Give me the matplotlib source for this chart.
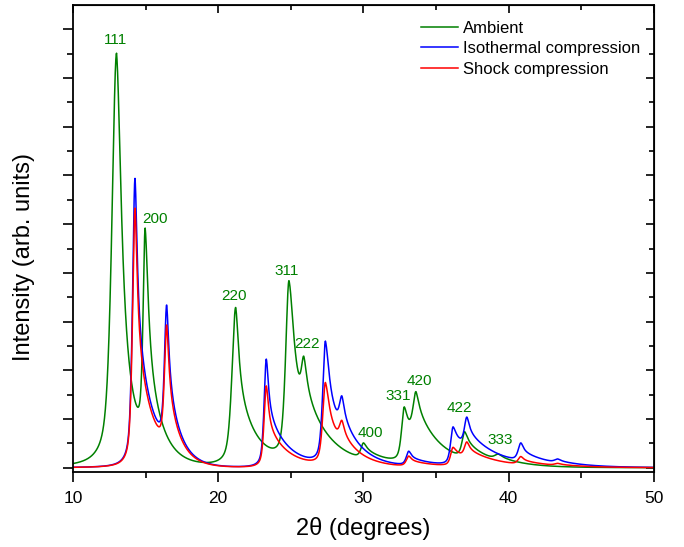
import numpy as np
import matplotlib
matplotlib.use('Agg')
import matplotlib.pyplot as plt

plt.rcParams['font.family'] = ['Liberation Sans', 'DejaVu Sans']

# peak tables (2theta, intensity) and line shape of each reflection:
# wl = left half width, wc = right core half width, f = share of the high-angle tail, tau = tail decay
amb_pos = [13.00, 14.97, 21.20, 24.87, 25.90, 30.01, 32.81, 33.62, 36.97, 39.30]
amb_int = [8.51, 4.92, 3.29, 3.84, 2.28, 0.51, 1.25, 1.56, 0.74, 0.28]
amb_wl = [0.38, 0.17, 0.30, 0.27, 0.20, 0.22, 0.22, 0.25, 0.22, 0.30]
amb_wc = [0.40, 0.25, 0.25, 0.40, 0.25, 0.25, 0.25, 0.25, 0.25, 0.30]
amb_f = [0.35, 0.50, 0.55, 0.45, 0.55, 0.70, 0.70, 0.75, 0.70, 0.70]
amb_tau = [0.90, 0.95, 1.30, 1.80, 1.80, 1.80, 1.70, 1.70, 1.80, 1.80]

iso_pos = [14.27, 16.45, 23.31, 27.38, 28.52, 33.12, 36.17, 37.12, 40.84, 43.38]
iso_int = [5.94, 3.34, 2.23, 2.60, 1.47, 0.34, 0.84, 1.04, 0.51, 0.18]
shock_int = [5.33, 2.93, 1.68, 1.75, 0.97, 0.24, 0.42, 0.53, 0.23, 0.09]
cmp_wl = [0.20, 0.18, 0.18, 0.22, 0.20, 0.20, 0.20, 0.20, 0.22, 0.25]
cmp_wc = [0.18, 0.18, 0.18, 0.30, 0.20, 0.20, 0.25, 0.20, 0.20, 0.25]
cmp_f = [0.55, 0.55, 0.55, 0.60, 0.55, 0.60, 0.75, 0.60, 0.60, 0.60]
cmp_tau = [1.10, 0.80, 1.40, 1.50, 1.10, 2.00, 2.20, 2.00, 2.00, 2.20]

hkl = ['111', '200', '220', '311', '222', '400', '331', '420', '422', '333']
hkl_x = [12.96, 15.63, 21.10, 24.73, 26.10, 30.50, 32.39, 33.83, 36.59, 39.41]
hkl_y = [8.79, 5.11, 3.53, 4.04, 2.53, 0.72, 1.47, 1.78, 1.22, 0.57]

ETA = 0.6  # lorentzian share on the low-angle side


def peak_shape(x, x0, wl, wc, f, tau):
    dx = np.asarray(x, dtype=float) - x0
    u = (dx/wl)**2
    left = ETA/(1 + u) + (1 - ETA)*np.exp(-np.log(2)*u)
    ad = np.abs(dx)
    right = (1 - f)/(1 + (ad/wc)**2) + f*np.exp(-ad/tau)
    return np.where(dx < 0, left, right)


def pattern(x, pos, inten, wl, wc, f, tau):
    # scale each reflection so the summed pattern passes through the tabulated intensities
    shapes = list(zip(pos, wl, wc, f, tau))
    m = np.array([[peak_shape(xi, *s) for s in shapes] for xi in pos])
    amp = np.linalg.solve(m, np.array(inten))
    y = np.zeros_like(x)
    for a, s in zip(amp, shapes):
        y += a*peak_shape(x, *s)
    return y


tt = np.linspace(10, 50, 4001)
y_amb = pattern(tt, amb_pos, amb_int, amb_wl, amb_wc, amb_f, amb_tau)
y_iso = pattern(tt, iso_pos, iso_int, cmp_wl, cmp_wc, cmp_f, cmp_tau)
y_shock = pattern(tt, iso_pos, shock_int, cmp_wl, cmp_wc, cmp_f, cmp_tau)

green = '#008000'
fig = plt.figure(figsize=(6.84, 5.47), dpi=100)
ax = fig.add_axes([0.1067, 0.1376, 0.8494, 0.8533])

ax.plot(tt, y_amb, color=green, lw=1.1, label='Ambient')
ax.plot(tt, y_iso, color='#0000ff', lw=1.1, label='Isothermal compression')
ax.plot(tt, y_shock, color='#ff0000', lw=1.1, label='Shock compression')

for t, xx, yy in zip(hkl, hkl_x, hkl_y):
    ax.text(xx, yy, t, color=green, fontsize=11, ha='center', va='center')

ax.set_xlim(10, 50)
ax.set_ylim(-0.082, 9.5)
ax.set_xticks(np.arange(10, 51, 10))
ax.set_xticks(np.arange(15, 50, 10), minor=True)
ax.set_yticks(np.arange(0, 10, 1))
ax.set_yticks(np.arange(0.5, 9.5, 1), minor=True)
ax.set_yticklabels([])
ax.tick_params(which='both', direction='out', width=1.2, labelsize=12.5, pad=7)
ax.tick_params(which='major', length=7)
ax.tick_params(which='minor', length=4)
for s in ax.spines.values():
    s.set_linewidth(1.3)

# mirrored ticks on the top and right, pointing inwards
top = ax.secondary_xaxis('top')
top.set_xticks(np.arange(10, 51, 10))
top.set_xticks(np.arange(15, 50, 10), minor=True)
top.tick_params(which='both', direction='in', width=1.2, labeltop=False)
top.tick_params(which='major', length=5.5)
top.tick_params(which='minor', length=3.5)
right = ax.secondary_yaxis('right')
right.set_yticks(np.arange(0, 10, 1))
right.set_yticks(np.arange(0.5, 9.5, 1), minor=True)
right.tick_params(which='both', direction='in', width=1.2, labelright=False)
right.tick_params(which='major', length=5.5)
right.tick_params(which='minor', length=3.5)

ax.set_xlabel('2θ (degrees)', fontsize=17, labelpad=8)
ax.set_ylabel('Intensity (arb. units)', fontsize=17)
ax.yaxis.set_label_coords(-0.066, 0.46)

ax.legend(loc='upper left', bbox_to_anchor=(0.6155, 0.962), bbox_transform=fig.transFigure,
          frameon=False, fontsize=12, handlelength=2.2, handletextpad=0.3,
          labelspacing=0.33, borderpad=0, borderaxespad=0)

fig.savefig('out.png', dpi=100)
